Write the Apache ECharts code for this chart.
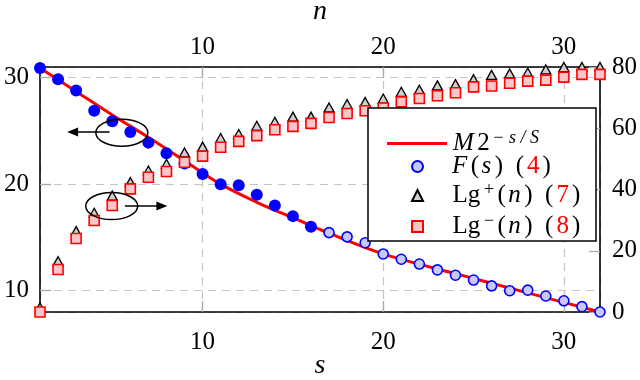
<!DOCTYPE html>
<html><head><meta charset="utf-8">
<script src="https://cdn.jsdelivr.net/npm/echarts@6/dist/echarts.min.js"></script>
<style>html,body{margin:0;padding:0;background:#fff}#c{width:640px;height:380px}</style>
</head><body><div id="c"></div>
<script>
// ---- data ----
const sFilled = [1,2,3,4,5,6,7,8,9,10,11,12,13,14,15,16];
const fFilled = [30.9,29.85,28.8,26.9,25.9,24.9,23.9,22.9,21.95,20.95,20.0,19.9,19.0,18.0,17.0,16.0];
const sHollow = [17,18,19,20,21,22,23,24,25,26,27,28,29,30,31,32];
const fHollow = [15.45,15.05,14.5,13.45,12.95,12.5,11.95,11.45,11.0,10.45,10.0,10.05,9.5,9.05,8.5,8.0];
const modelS = [1,3,5,7,9,11,13,15,17,20,24,28,32];
const modelV = [30.9,28.7,26.5,24.4,22.2,20.0,18.3,16.85,15.4,13.45,11.6,9.8,8.0];
const nValues = [1,2,3,4,5,6,7,8,9,10,11,12,13,14,15,16,17,18,19,20,21,22,23,24,25,26,27,28,29,30,31,32];
const lgPlus = [1.5,16.6,26.4,32.4,38.0,42.4,46.2,48.4,52.1,54.0,56.8,58.1,60.8,62.1,63.8,63.8,66.8,67.9,68.6,69.7,71.9,72.6,74.0,74.4,76.0,77.4,77.9,78.2,79.2,80,80,80];
const lgMinus = [0,13.9,24.0,29.9,34.8,40.2,44.0,45.9,48.9,50.9,53.8,55.7,57.6,59.5,60.6,61.6,63.5,64.8,65.7,66.6,68.6,69.7,70.6,71.6,73.5,73.8,74.7,75.4,75.7,76.7,77.6,77.6];
const sRange = [1, 32];
const leftRange = [8, 31];
const rightRange = [0, 80];
const rightTickStep = 20;

const zip = (a, b) => a.map((v, i) => [v, b[i]]);
const FONT = "'Liberation Serif', 'Times New Roman', serif";
const gridCol = '#c4c4c4';

const chart = echarts.init(document.getElementById('c'), null, {renderer: 'canvas'});

const labelBase = {color: '#000', fontFamily: FONT, fontSize: 25};
const tickBase = {show: true, inside: true, length: 11, lineStyle: {color: '#a8a8a8', width: 1.3}};
const axisLineBase = {show: true, lineStyle: {color: '#000', width: 1.6}};

const legendText = {
  model: '{it|M}{rm|2}{sup|− s / S}',
  F: '{it|F}{rm|(}{it|s}{rm|)  (}{red|4}{rm|)}',
  Lgp: '{rm|Lg}{sup|+}{rm|(}{it|n}{rm|)  (}{red|7}{rm|)}',
  Lgm: '{rm|Lg}{sup|−}{rm|(}{it|n}{rm|)  (}{red|8}{rm|)}'
};
const richStyles = {
  it: {fontFamily: FONT, fontStyle: 'italic', fontSize: 25, color: '#000', lineHeight: 24, padding: [0, 2, 0, 1]},
  rm: {fontFamily: FONT, fontSize: 25, color: '#000', lineHeight: 24, padding: [0, 1.5, 0, 1.5]},
  red: {fontFamily: FONT, fontSize: 25, color: '#ff0000', lineHeight: 24, padding: [0, 1.5, 0, 1.5]},
  sup: {fontFamily: FONT, fontStyle: 'italic', fontSize: 18, color: '#000', lineHeight: 14, padding: [0, 1, 11, 1]}
};

const option = {
  animation: false,
  backgroundColor: '#fff',
  grid: {left: 40, right: 40, top: 67, bottom: 68, containLabel: false, outerBoundsMode: 'none'},
  xAxis: [
    {type: 'value', position: 'bottom', min: sRange[0], max: sRange[1], splitNumber: 3,
     axisLine: axisLineBase, axisTick: tickBase,
     axisLabel: Object.assign({margin: 18, showMinLabel: false, showMaxLabel: false}, labelBase),
     splitLine: {show: true, lineStyle: {color: gridCol, type: [8, 6], width: 1.2}},
     name: 's', nameLocation: 'middle', nameGap: 54, nameMoveOverlap: false,
     nameTextStyle: {fontFamily: FONT, fontStyle: 'italic', fontSize: 28, color: '#000', verticalAlign: 'middle'}},
    {type: 'value', position: 'top', min: sRange[0], max: sRange[1], splitNumber: 3,
     axisLine: axisLineBase, axisTick: tickBase,
     axisLabel: Object.assign({margin: 7, showMinLabel: false, showMaxLabel: false}, labelBase),
     splitLine: {show: false},
     name: 'n', nameLocation: 'middle', nameGap: 55, nameMoveOverlap: false,
     nameTextStyle: {fontFamily: FONT, fontStyle: 'italic', fontSize: 28, color: '#000', verticalAlign: 'middle'}}
  ],
  yAxis: [
    {type: 'value', position: 'left', min: leftRange[0], max: leftRange[1], splitNumber: 2,
     axisLine: axisLineBase, axisTick: tickBase,
     axisLabel: Object.assign({margin: 11, showMinLabel: false, showMaxLabel: false}, labelBase),
     splitLine: {show: true, lineStyle: {color: gridCol, type: [8, 6], width: 1.2}}},
    {type: 'value', position: 'right', min: rightRange[0], max: rightRange[1], interval: rightTickStep,
     axisLine: axisLineBase, axisTick: tickBase,
     axisLabel: Object.assign({margin: 12}, labelBase),
     splitLine: {show: false}}
  ],
  legend: [
    {orient: 'vertical', left: 382, top: 124, itemWidth: 60, itemHeight: 3, itemGap: 2, z: 60,
     data: [{name: 'model', icon: 'rect'}],
     formatter: name => legendText[name], selectedMode: false,
     textStyle: {padding: [0, 0, 0, 0], rich: richStyles}},
    {orient: 'vertical', left: 406, top: 149, itemWidth: 11, itemHeight: 11, itemGap: 2, z: 60,
     data: ['F', 'Lgp', 'Lgm'],
     formatter: name => legendText[name], selectedMode: false,
     textStyle: {padding: [0, 0, 0, 23], rich: richStyles}}
  ],
  series: [
    {name: 'model', type: 'line', xAxisIndex: 0, yAxisIndex: 0, data: zip(modelS, modelV),
     smooth: 0.35, showSymbol: false, symbol: 'none', z: 2,
     lineStyle: {color: '#ff0000', width: 3}, itemStyle: {color: '#ff0000'}},
    {name: 'Ffilled', type: 'scatter', xAxisIndex: 0, yAxisIndex: 0, data: zip(sFilled, fFilled),
     symbol: 'circle', symbolSize: 12, clip: false, z: 3,
     itemStyle: {color: '#0000ff', borderColor: '#0000ff', borderWidth: 0, opacity: 1}},
    {name: 'F', type: 'scatter', xAxisIndex: 0, yAxisIndex: 0, data: zip(sHollow, fHollow),
     symbol: 'circle', symbolSize: 10, clip: false, z: 3,
     itemStyle: {color: '#c8c8f6', borderColor: '#0000ff', borderWidth: 1.6, opacity: 1}},
    {name: 'Lgp', type: 'scatter', xAxisIndex: 1, yAxisIndex: 1, data: zip(nValues, lgPlus),
     symbol: 'triangle', symbolSize: [10, 9], clip: false, z: 4,
     itemStyle: {color: '#cfcfcf', borderColor: '#000', borderWidth: 1.3, opacity: 1}},
    {name: 'Lgm', type: 'scatter', xAxisIndex: 1, yAxisIndex: 1, data: zip(nValues, lgMinus),
     symbol: 'rect', symbolSize: 10, clip: false, z: 5,
     itemStyle: {color: '#fbc6c9', borderColor: '#ff0000', borderWidth: 1.6, opacity: 1}}
  ]
};
chart.setOption(option);

// ---- annotations anchored to data coordinates ----
const pL = v => chart.convertToPixel({seriesIndex: 1}, v);
const pR = v => chart.convertToPixel({seriesIndex: 3}, v);
const e1 = pL([5.53, 24.83]);
const a1s = pL([4.85, 24.9]), a1e = pL([2.5, 24.9]);
const e2 = pR([4.97, 34.6]);
const a2s = pR([5.7, 34.6]), a2e = pR([8.05, 34.6]);
const arrowHead = (tip, dir) => [[tip[0], tip[1]], [tip[0] - dir * 11, tip[1] - 4.5], [tip[0] - dir * 11, tip[1] + 4.5]];
const stroke = {stroke: '#000', lineWidth: 1.5, fill: null};
chart.setOption({
  graphic: [
    {type: 'rect', shape: {x: 368, y: 108, width: 228, height: 133}, style: {fill: '#fff', stroke: '#000', lineWidth: 1.5}, z: 20},
    {type: 'ellipse', shape: {cx: e1[0], cy: e1[1], rx: 26, ry: 13.5}, style: stroke, z: 100},
    {type: 'line', shape: {x1: a1s[0], y1: a1s[1], x2: a1e[0] + 8, y2: a1e[1]}, style: {stroke: '#000', lineWidth: 1.5}, z: 100},
    {type: 'polygon', shape: {points: arrowHead(a1e, -1)}, style: {fill: '#000'}, z: 100},
    {type: 'ellipse', shape: {cx: e2[0], cy: e2[1], rx: 26, ry: 13.5}, style: stroke, z: 100},
    {type: 'line', shape: {x1: a2s[0], y1: a2s[1], x2: a2e[0] - 8, y2: a2e[1]}, style: {stroke: '#000', lineWidth: 1.5}, z: 100},
    {type: 'polygon', shape: {points: arrowHead(a2e, 1)}, style: {fill: '#000'}, z: 100}
  ]
});
</script>
</body></html>
